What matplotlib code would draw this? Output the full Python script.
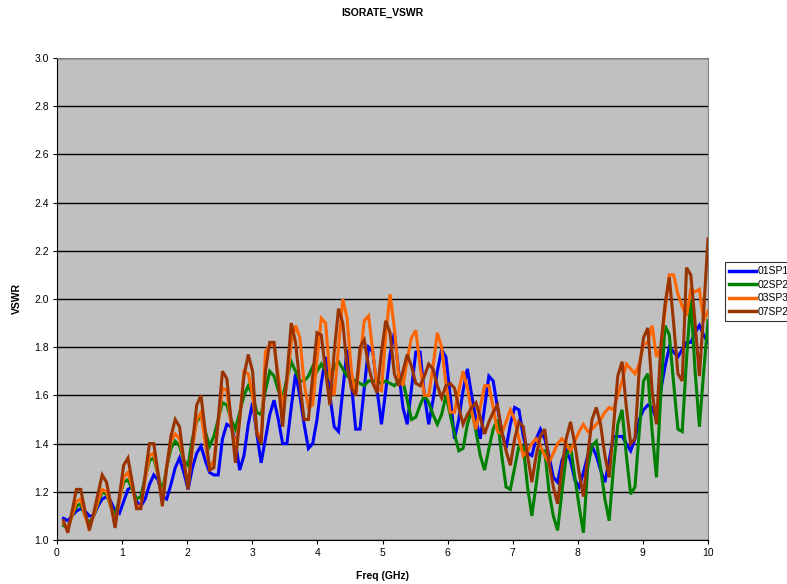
import numpy as np
import matplotlib
matplotlib.use("Agg")
import matplotlib.pyplot as plt

plt.rcParams['font.family'] = ['Liberation Sans', 'DejaVu Sans']

freq = np.round(np.linspace(0.1, 10.0, 151), 3)

sp01 = [1.09, 1.08, 1.10, 1.12, 1.13, 1.12, 1.10, 1.10, 1.14, 1.17,
        1.18, 1.16, 1.12, 1.11, 1.16, 1.21, 1.22, 1.16, 1.14, 1.17,
        1.23, 1.27, 1.25, 1.18, 1.17, 1.23, 1.30, 1.34, 1.28, 1.21,
        1.30, 1.36, 1.39, 1.33, 1.28, 1.27, 1.27, 1.42, 1.48, 1.47,
        1.41, 1.29, 1.35, 1.48, 1.57, 1.44, 1.32, 1.42, 1.52, 1.58,
        1.50, 1.40, 1.40, 1.55, 1.69, 1.60, 1.48, 1.38, 1.40, 1.50,
        1.65, 1.76, 1.60, 1.47, 1.45, 1.62, 1.79, 1.65, 1.46, 1.46,
        1.63, 1.80, 1.78, 1.62, 1.48, 1.62, 1.77, 1.86, 1.70, 1.55,
        1.48, 1.63, 1.78, 1.78, 1.60, 1.48, 1.58, 1.70, 1.79, 1.76,
        1.60, 1.42, 1.50, 1.62, 1.71, 1.60, 1.50, 1.42, 1.55, 1.68,
        1.66, 1.55, 1.45, 1.38, 1.48, 1.55, 1.54, 1.43, 1.36, 1.35,
        1.42, 1.46, 1.42, 1.35, 1.26, 1.24, 1.33, 1.37, 1.33, 1.25,
        1.22, 1.28, 1.35, 1.39, 1.35, 1.29, 1.24, 1.33, 1.43, 1.43,
        1.43, 1.40, 1.37, 1.42, 1.50, 1.54, 1.56, 1.55, 1.50, 1.62,
        1.72, 1.80, 1.78, 1.76, 1.79, 1.82, 1.82, 1.86, 1.89, 1.85,
        1.82]

sp02 = [1.06, 1.05, 1.10, 1.14, 1.15, 1.10, 1.07, 1.10, 1.15, 1.20,
        1.19, 1.14, 1.10, 1.17, 1.24, 1.25, 1.21, 1.17, 1.18, 1.26,
        1.33, 1.34, 1.27, 1.20, 1.30, 1.38, 1.41, 1.39, 1.33, 1.31,
        1.42, 1.49, 1.52, 1.45, 1.39, 1.43, 1.50, 1.57, 1.56, 1.50,
        1.46, 1.53, 1.60, 1.64, 1.60, 1.53, 1.52, 1.62, 1.70, 1.68,
        1.62, 1.59, 1.67, 1.74, 1.70, 1.66, 1.66, 1.68, 1.72, 1.70,
        1.73, 1.70, 1.67, 1.72, 1.74, 1.71, 1.68, 1.67, 1.66, 1.65,
        1.64, 1.66, 1.66, 1.66, 1.65, 1.66, 1.65, 1.64, 1.66, 1.66,
        1.58, 1.50, 1.51, 1.56, 1.60, 1.57, 1.52, 1.48, 1.52, 1.60,
        1.52, 1.44, 1.37, 1.38, 1.48, 1.54, 1.45, 1.35, 1.29, 1.38,
        1.46, 1.50, 1.35, 1.22, 1.21, 1.30, 1.39, 1.39, 1.22, 1.10,
        1.23, 1.37, 1.37, 1.20, 1.10, 1.04, 1.20, 1.35, 1.39, 1.26,
        1.14, 1.03, 1.30, 1.39, 1.41, 1.30, 1.17, 1.08, 1.30, 1.48,
        1.54, 1.35, 1.19, 1.22, 1.45, 1.66, 1.69, 1.45, 1.26, 1.60,
        1.89, 1.85, 1.65, 1.46, 1.45, 1.75, 2.00, 1.70, 1.47, 1.70,
        1.91]

sp03 = [1.07, 1.05, 1.10, 1.16, 1.17, 1.10, 1.05, 1.10, 1.16, 1.21,
        1.20, 1.14, 1.07, 1.16, 1.26, 1.28, 1.22, 1.14, 1.14, 1.25,
        1.35, 1.36, 1.27, 1.16, 1.30, 1.41, 1.44, 1.42, 1.33, 1.22,
        1.38, 1.50, 1.53, 1.40, 1.30, 1.33, 1.48, 1.63, 1.62, 1.48,
        1.38, 1.50, 1.70, 1.69, 1.60, 1.45, 1.42, 1.78, 1.81, 1.81,
        1.68, 1.55, 1.65, 1.82, 1.89, 1.84, 1.65, 1.55, 1.56, 1.75,
        1.92, 1.90, 1.68, 1.60, 1.80, 2.00, 1.92, 1.70, 1.60, 1.75,
        1.91, 1.93, 1.78, 1.63, 1.62, 1.85, 2.02, 1.88, 1.68, 1.64,
        1.75, 1.84, 1.87, 1.72, 1.60, 1.60, 1.72, 1.86, 1.80, 1.65,
        1.53, 1.53, 1.62, 1.70, 1.63, 1.53, 1.46, 1.55, 1.64, 1.64,
        1.55, 1.45, 1.44, 1.49, 1.54, 1.50, 1.42, 1.35, 1.37, 1.40,
        1.42, 1.39, 1.35, 1.32, 1.36, 1.40, 1.42, 1.40, 1.37, 1.41,
        1.45, 1.48, 1.45, 1.46, 1.48, 1.50, 1.53, 1.55, 1.54, 1.60,
        1.66, 1.73, 1.71, 1.69, 1.73, 1.81, 1.82, 1.89, 1.76, 1.80,
        1.95, 2.10, 2.10, 2.02, 1.97, 1.93, 2.04, 2.03, 2.04, 1.91,
        1.95]

sp07 = [1.08, 1.03, 1.12, 1.21, 1.21, 1.12, 1.04, 1.11, 1.19, 1.27,
        1.24, 1.15, 1.05, 1.18, 1.31, 1.34, 1.24, 1.13, 1.13, 1.27,
        1.40, 1.40, 1.28, 1.14, 1.30, 1.43, 1.50, 1.47, 1.33, 1.21,
        1.40, 1.56, 1.60, 1.45, 1.29, 1.30, 1.50, 1.70, 1.67, 1.50,
        1.32, 1.50, 1.68, 1.77, 1.70, 1.44, 1.40, 1.70, 1.82, 1.82,
        1.65, 1.47, 1.68, 1.90, 1.82, 1.65, 1.50, 1.50, 1.68, 1.86,
        1.85, 1.70, 1.56, 1.78, 1.96, 1.90, 1.72, 1.63, 1.60, 1.80,
        1.83, 1.72, 1.65, 1.61, 1.78, 1.91, 1.86, 1.69, 1.64, 1.70,
        1.77, 1.72, 1.65, 1.64, 1.68, 1.73, 1.71, 1.64, 1.59, 1.64,
        1.65, 1.63, 1.55, 1.48, 1.52, 1.55, 1.57, 1.51, 1.44, 1.49,
        1.53, 1.56, 1.45, 1.37, 1.31, 1.42, 1.49, 1.47, 1.35, 1.24,
        1.35, 1.43, 1.46, 1.32, 1.22, 1.15, 1.30, 1.42, 1.49, 1.40,
        1.28, 1.18, 1.35, 1.50, 1.55, 1.48, 1.35, 1.26, 1.47, 1.68,
        1.74, 1.55, 1.40, 1.42, 1.71, 1.84, 1.88, 1.62, 1.48, 1.80,
        1.98, 2.09, 1.90, 1.69, 1.66, 2.13, 2.10, 1.90, 1.68, 1.95,
        2.25]

series = [("01SP1", sp01, "#0000FF"),
          ("02SP2", sp02, "#008000"),
          ("03SP3", sp03, "#FF6600"),
          ("07SP2", sp07, "#993300")]

xticks = list(range(0, 11))
yticks = [1.0, 1.2, 1.4, 1.6, 1.8, 2.0, 2.2, 2.4, 2.6, 2.8, 3.0]

fig = plt.figure(figsize=(7.87, 5.84), dpi=100)
fig.patch.set_facecolor("white")
ax = fig.add_axes([57/787, 1-540/584, (708-57)/787, (540-58)/584])
ax.set_facecolor("#C0C0C0")

for name, vals, col in series:
    ax.plot(freq, vals, color=col, lw=2.2, label=name, solid_joinstyle="miter")

ax.set_xlim(0, 10)
ax.set_ylim(1.0, 3.0)
ax.set_xticks(xticks)
ax.set_yticks(yticks)
ax.set_yticklabels([f"{v:.1f}" for v in yticks], fontsize=7.5)
ax.set_xticklabels([str(v) for v in xticks], fontsize=7.5)
ax.yaxis.grid(True, color="black", lw=1.0)
ax.set_axisbelow(True)
ax.tick_params(direction="out", length=3, width=0.8, pad=3)
for s in ["top", "right"]:
    ax.spines[s].set_color("#808080")
for s in ["left", "bottom"]:
    ax.spines[s].set_color("black")

ax.set_title("ISORATE_VSWR", fontsize=7.5, fontweight="bold", pad=30)
ax.set_xlabel("Freq (GHz)", fontsize=7.5, fontweight="bold", labelpad=9)
ax.set_ylabel("VSWR", fontsize=7.5, fontweight="bold", labelpad=9)

leg = fig.legend(loc="upper left", bbox_to_anchor=(725/787, 1-262/584),
                 fontsize=7.5, frameon=True, fancybox=False, edgecolor="black",
                 borderpad=0.4, handlelength=2.6, handletextpad=0.1,
                 labelspacing=0.35, borderaxespad=0)
leg.get_frame().set_linewidth(0.8)
for line in leg.get_lines():
    line.set_linewidth(2.5)

fig.savefig("out.png", dpi=100)
